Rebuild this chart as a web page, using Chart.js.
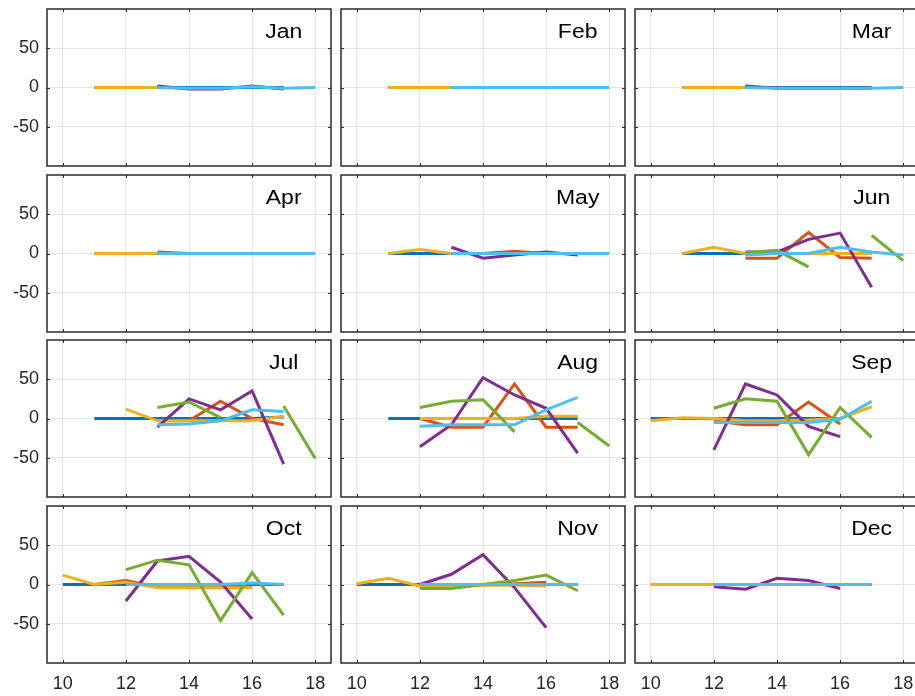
<!DOCTYPE html>
<html>
<head>
<meta charset="utf-8">
<title>Monthly deviations</title>
<script src="https://cdn.jsdelivr.net/npm/chart.js@4"></script>
<style>
    body { margin: 0; background: #fff; overflow: hidden; }
    #fig { position: relative; width: 915px; height: 696px; overflow: hidden; background: #fff; }
    #fig canvas { position: absolute; }
</style>
</head>
<body>
<div id="fig"></div>
<script>
const n = null;

const hours = [10, 11, 12, 13, 14, 15, 16, 17, 18];
const xTicks = [10, 12, 14, 16, 18];
const yTicks = [-50, 0, 50];
const months = ["Jan", "Feb", "Mar", "Apr", "May", "Jun", "Jul", "Aug", "Sep", "Oct", "Nov", "Dec"];

// rows per month: blue, orange, yellow, purple, green, cyan
const jan = [
    [n, 0, 0, 0, 0, 0, 0, 0, n],
    [n, n, n, n, n, n, n, n, n],
    [n, 0, 0, 0, n, n, n, n, n],
    [n, n, n, 2, -2, -2, 2, -2, n],
    [n, n, n, n, n, n, n, n, n],
    [n, n, n, 0, -1, -1, 1, -1, 0]
];
const feb = [
    [n, 0, 0, 0, 0, 0, 0, 0, n],
    [n, n, n, n, n, n, n, n, n],
    [n, 0, 0, 0, n, n, n, n, n],
    [n, n, n, n, n, n, n, n, n],
    [n, n, n, n, n, n, n, n, n],
    [n, n, n, 0, 0, 0, 0, 0, 0]
];
const mar = [
    [n, 0, 0, 0, 0, 0, 0, 0, n],
    [n, n, n, n, n, n, n, n, n],
    [n, 0, 0, 0, n, n, n, n, n],
    [n, n, n, 2, -1, -1, -1, -1, n],
    [n, n, n, n, n, n, n, n, n],
    [n, n, n, 0, -1, -1, -1, -1, 0]
];
const apr = [
    [n, 0, 0, 0, 0, 0, 0, 0, n],
    [n, n, n, 2, 0, 0, 0, 0, n],
    [n, 0, 0, 0, n, n, n, n, n],
    [n, n, n, n, n, n, n, n, n],
    [n, n, n, n, n, n, n, n, n],
    [n, n, n, 0, 0, 0, 0, 0, 0]
];
const may = [
    [n, 0, 0, 0, 0, 0, 0, 0, n],
    [n, n, n, 0, 0, 3, 0, 0, n],
    [n, 0, 5, 0, n, n, n, n, n],
    [n, n, n, 8, -6, -2, 2, -2, n],
    [n, n, n, n, n, n, n, n, n],
    [n, n, n, 0, 0, 0, 0, 0, 0]
];
const jun = [
    [n, 0, 0, 0, 0, 0, 0, 0, n],
    [n, n, n, -6, -6, 27, -5, -6, n],
    [n, 0, 8, 0, 0, 0, 0, 0, n],
    [n, n, n, 2, 2, 18, 26, -43, n],
    [n, n, n, 1, 4, -17, n, 23, -9],
    [n, n, n, -2, 0, 0, 8, 2, -2]
];
const jul = [
    [n, 0, 0, 0, 0, 0, 0, 2, n],
    [n, n, n, -3, -3, 22, 0, -8, n],
    [n, n, 12, -3, -3, -3, -3, 3, n],
    [n, n, n, -11, 25, 11, 35, -58, n],
    [n, n, n, 14, 21, 1, n, 16, -51],
    [n, n, n, -8, -7, -3, 11, 9, n]
];
const aug = [
    [n, 0, 0, 0, 0, 0, 0, 0, n],
    [n, n, 0, -11, -11, 44, -11, -11, n],
    [n, n, 0, 0, 0, 0, 3, 3, n],
    [n, n, -36, -8, 52, 30, 13, -44, n],
    [n, n, 14, 22, 24, -17, n, -5, -35],
    [n, n, -10, -8, -8, -8, 11, 27, n]
];
const sep = [
    [0, 0, 0, 0, 0, 0, 0, n, n],
    [n, n, -3, -8, -8, 21, -7, n, n],
    [-3, 1, 0, -3, -3, -2, 0, 15, n],
    [n, n, -40, 44, 30, -10, -23, n, n],
    [n, n, 13, 25, 22, -46, 14, -24, n],
    [n, n, -5, -5, -5, -5, -1, 22, n]
];
const oct = [
    [0, 0, 0, 0, 0, 0, 0, 0, n],
    [n, 0, 5, -3, -3, -3, -3, n, n],
    [12, 0, 3, -4, -4, -4, -4, n, n],
    [n, n, -21, 30, 36, 3, -44, n, n],
    [n, n, 19, 31, 25, -46, 15, -39, n],
    [n, n, 0, 0, 0, 0, 2, 0, n]
];
const nov = [
    [0, 0, 0, 0, 0, 0, 0, 0, n],
    [n, n, 0, 0, 0, 1, 3, n, n],
    [1, 8, -2, -2, -1, -1, -2, n, n],
    [n, n, 0, 13, 38, -4, -55, n, n],
    [n, n, -5, -5, 0, 5, 12, -8, n],
    [n, n, 0, 0, 0, 0, 0, 0, n]
];
const dec = [
    [0, 0, 0, 0, 0, 0, 0, 0, n],
    [n, n, n, n, n, n, n, n, n],
    [0, 0, 0, n, n, n, n, n, n],
    [n, n, -3, -6, 8, 5, -5, n, n],
    [n, n, n, n, n, n, n, n, n],
    [n, n, 0, 0, 0, 0, 0, 0, n]
];
const monthData = [jan, feb, mar, apr, may, jun, jul, aug, sep, oct, nov, dec];

const lineColors = ["#0072BD", "#D95319", "#EDB120", "#7E2F8E", "#77AC30", "#4DBEEE"];
const fontFamily = "'Liberation Sans', Arial, Helvetica, sans-serif";

// panel boxes in page pixels
const colLeft = [47, 341, 635];
const rowTop = [9, 175, 340, 506];
const panelW = 284;
const panelH = 157;

// frame, inward ticks and month label
const panelDecor = {
    id: "panelDecor",
    afterDatasetsDraw(chart, args, opts) {
        const ctx = chart.ctx;
        const a = chart.chartArea;
        const xs = chart.scales.x;
        const ys = chart.scales.y;
        ctx.save();
        ctx.strokeStyle = "#2b2b2b";
        ctx.lineWidth = 1;
        ctx.beginPath();
        xs.ticks.forEach(t => {
            const px = Math.round(xs.getPixelForValue(t.value)) + 0.5;
            ctx.moveTo(px, a.top);
            ctx.lineTo(px, a.top + 3);
            ctx.moveTo(px, a.bottom);
            ctx.lineTo(px, a.bottom - 3);
        });
        ys.ticks.forEach(t => {
            const py = Math.round(ys.getPixelForValue(t.value)) + 0.5;
            ctx.moveTo(a.left, py);
            ctx.lineTo(a.left + 3, py);
            ctx.moveTo(a.right, py);
            ctx.lineTo(a.right - 3, py);
        });
        ctx.stroke();
        ctx.lineWidth = 1.5;
        ctx.strokeRect(a.left, a.top, a.right - a.left, a.bottom - a.top);

        ctx.fillStyle = "#000";
        ctx.font = "20px " + fontFamily;
        ctx.textAlign = "center";
        ctx.textBaseline = "alphabetic";
        ctx.translate(xs.getPixelForValue(opts.labelX), ys.getPixelForValue(opts.labelY));
        ctx.scale(1.15, 1);
        ctx.fillText(opts.label, 0, 0);
        ctx.restore();
    }
};

function makePanel(index) {
    const r = Math.floor(index / 3);
    const c = index % 3;
    const padL = c === 0 ? colLeft[0] : 6;
    const padT = 6;
    const padR = 6;
    const padB = r === 3 ? 696 - (rowTop[3] + panelH) : 6;

    const canvas = document.createElement("canvas");
    canvas.width = padL + panelW + padR;
    canvas.height = padT + panelH + padB;
    canvas.style.left = (colLeft[c] - padL) + "px";
    canvas.style.top = (rowTop[r] - padT) + "px";
    document.getElementById("fig").appendChild(canvas);

    const datasets = monthData[index].map((vals, k) => ({
        data: vals.map((v, j) => ({ x: hours[j], y: v })),
        borderColor: lineColors[k],
        borderWidth: 3,
        borderJoinStyle: "miter",
        pointRadius: 0,
        tension: 0,
        fill: false,
        order: 6 - k
    }));

    return new Chart(canvas, {
        type: "line",
        data: { datasets: datasets },
        options: {
            responsive: false,
            animation: false,
            spanGaps: false,
            layout: { padding: { left: 0, top: padT, right: padR, bottom: 0 } },
            plugins: {
                legend: { display: false },
                tooltip: { enabled: false },
                panelDecor: { label: months[index], labelX: 17, labelY: 63 }
            },
            scales: {
                x: {
                    type: "linear",
                    min: 9.5,
                    max: 18.5,
                    afterBuildTicks: axis => { axis.ticks = xTicks.map(v => ({ value: v })); },
                    afterFit: axis => {
                        axis.height = padB;
                        axis.paddingLeft = 0;
                        axis.paddingRight = 0;
                    },
                    grid: { color: "#e4e4e4", lineWidth: 1, drawTicks: false },
                    border: { display: false },
                    ticks: {
                        display: r === 3,
                        padding: 10,
                        color: "#262626",
                        font: { family: fontFamily, size: 18 },
                        maxRotation: 0
                    }
                },
                y: {
                    type: "linear",
                    min: -100,
                    max: 100,
                    afterBuildTicks: axis => { axis.ticks = yTicks.map(v => ({ value: v })); },
                    afterFit: axis => {
                        axis.width = padL;
                        axis.paddingTop = 0;
                        axis.paddingBottom = 0;
                    },
                    grid: { color: "#e4e4e4", lineWidth: 1, drawTicks: false },
                    border: { display: false },
                    ticks: {
                        display: c === 0,
                        padding: 8,
                        color: "#262626",
                        font: { family: fontFamily, size: 18 }
                    }
                }
            }
        },
        plugins: [panelDecor]
    });
}

document.addEventListener("DOMContentLoaded", function () {
    for (let i = 0; i < months.length; i++) {
        makePanel(i);
    }
});
</script>
</body>
</html>
